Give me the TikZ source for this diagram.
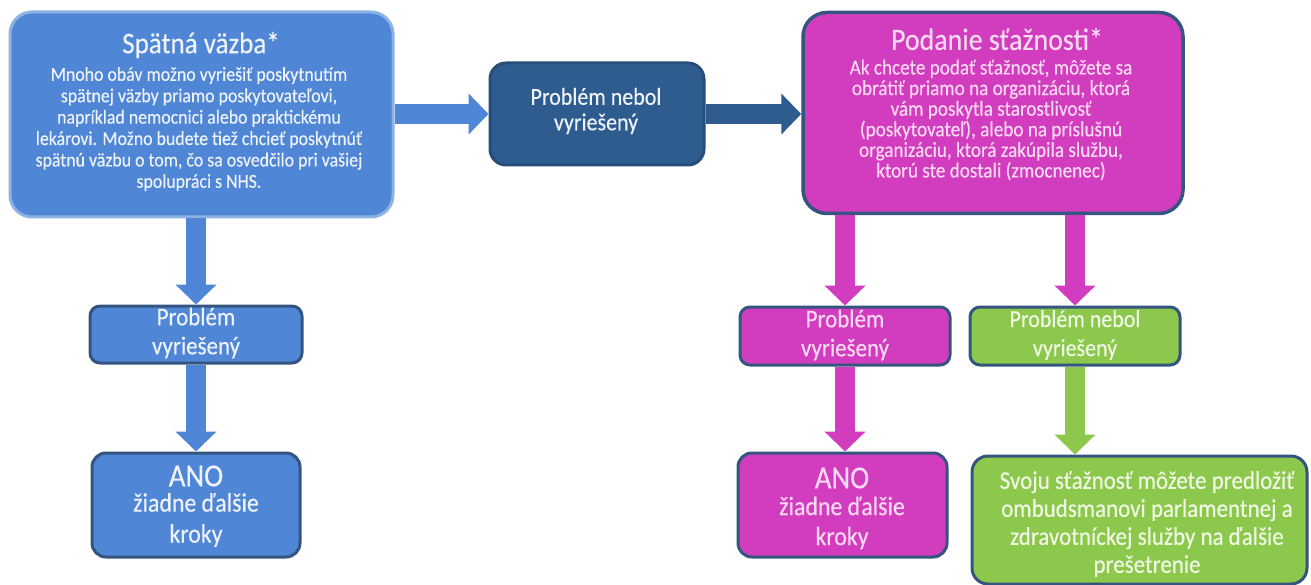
\documentclass[tikz,border=0pt]{standalone}
\usepackage{fontspec}
\setmainfont{Carlito}[FakeStretch=0.9,FakeBold=0.3]
\usetikzlibrary{arrows.meta}
\definecolor{cblue}{HTML}{4F86D6}
\definecolor{cbluebd}{HTML}{8DB3E5}
\definecolor{cnavy}{HTML}{34557F}
\definecolor{cdark}{HTML}{2E5C8E}
\definecolor{cpink}{HTML}{D23CBE}
\definecolor{cgreen}{HTML}{8CC84B}
\definecolor{ctxtblue}{HTML}{EEF3FB}
\definecolor{ctxtpink}{HTML}{FAD9F2}
\definecolor{ctxtgreen}{HTML}{F1F8E6}
\tikzset{
  boxbase/.style={line width=3pt, inner sep=0pt},
  bluebig/.style={boxbase, fill=cblue, draw=cbluebd, rounded corners=22pt},
  darkbox/.style={boxbase, fill=cdark, draw=cdark!85!black, rounded corners=16pt},
  pinkbig/.style={boxbase, fill=cpink, draw=cnavy, line width=3.5pt, rounded corners=24pt},
  bluesmall/.style={boxbase, fill=cblue, draw=cnavy, rounded corners=10pt},
  pinksmall/.style={boxbase, fill=cpink, draw=cnavy, rounded corners=10pt},
  greensmall/.style={boxbase, fill=cgreen, draw=cnavy, rounded corners=10pt},
  txt/.style={inner sep=0pt, align=center},
  btxt/.style={txt, text=ctxtblue},
  ptxt/.style={txt, text=ctxtpink},
  gtxt/.style={txt, text=ctxtgreen},
  blockarrow/.style={line width=20pt, -{Triangle[width=40pt,length=20pt]}},
  barrow/.style={blockarrow, draw=cblue},
  darrow/.style={blockarrow, draw=cdark},
  parrow/.style={blockarrow, draw=cpink},
  garrow/.style={blockarrow, draw=cgreen},
}
\begin{document}
\begin{tikzpicture}[x=1pt,y=-1pt]
\useasboundingbox[fill=white] (0,0) rectangle (1311,585);

% boxes
\node[bluebig, minimum width=383pt, minimum height=205pt] (fb) at (201.5,114.5) {};
\node[darkbox, minimum width=214pt, minimum height=102pt] (mid) at (597,114) {};
\node[pinkbig, minimum width=380pt, minimum height=201pt] (pk) at (993,113) {};
\node[bluesmall, minimum width=212pt, minimum height=57pt] (bpv) at (196,334.5) {};
\node[bluesmall, minimum width=208pt, minimum height=104pt, rounded corners=14pt] (bano) at (196,505) {};
\node[pinksmall, minimum width=210pt, minimum height=58pt] (ppv) at (845,336) {};
\node[pinksmall, minimum width=209pt, minimum height=104pt, rounded corners=14pt] (pano) at (842.5,505) {};
\node[greensmall, minimum width=210pt, minimum height=58pt] (gpv) at (1075,336) {};
\node[greensmall, minimum width=335pt, minimum height=128pt, rounded corners=16pt] (gfin) at (1139.5,520) {};

% texts
\node[btxt, font=\fontsize{30}{32}\selectfont] (fbt) at (201,45) {Spätná väzba*};
\node[btxt, font=\fontsize{19.8}{21.4}\selectfont] (fbb) at (199,129) {Mnoho obáv možno vyriešiť poskytnutím\\spätnej väzby priamo poskytovateľovi,\\napríklad nemocnici alebo praktickému\\lekárovi. Možno budete tiež chcieť poskytnúť\\spätnú väzbu o tom, čo sa osvedčilo pri vašiej\\spolupráci s NHS.};
\node[btxt, font=\fontsize{24.4}{25.5}\selectfont] (midt) at (596,111) {Problém nebol\\vyriešený};
\node[ptxt, font=\fontsize{31}{32}\selectfont] (pkt) at (997,39) {Podanie sťažnosti*};
\node[ptxt, font=\fontsize{21.3}{20.6}\selectfont] (pkb) at (991,120) {Ak chcete podať sťažnosť, môžete sa\\obrátiť priamo na organizáciu, ktorá\\vám poskytla starostlivosť\\(poskytovateľ), alebo na príslušnú\\organizáciu, ktorá zakúpila službu,\\ktorú ste dostali (zmocnenec)};
\node[btxt, font=\fontsize{25.5}{29}\selectfont] (bpvt) at (196,333) {Problém\\vyriešený};
\node[btxt, font=\fontsize{32}{33}\selectfont] (banot) at (196,476) {ANO};
\node[btxt, font=\fontsize{26.5}{31}\selectfont] (banob) at (196,520) {žiadne ďalšie\\kroky};
\node[ptxt, font=\fontsize{25.5}{29}\selectfont] (ppvt) at (845,335) {Problém\\vyriešený};
\node[ptxt, font=\fontsize{32}{33}\selectfont] (panot) at (842,478) {ANO};
\node[ptxt, font=\fontsize{26.5}{30}\selectfont] (panob) at (842,523) {žiadne ďalšie\\kroky};
\node[gtxt, font=\fontsize{24.4}{29}\selectfont] (gpvt) at (1075,335) {Problém nebol\\vyriešený};
\node[gtxt, font=\fontsize{25.5}{28}\selectfont] (gfint) at (1147,524) {Svoju sťažnosť môžete predložiť\\ombudsmanovi parlamentnej a\\zdravotníckej služby na ďalšie\\prešetrenie};

% arrows
\draw[barrow] (fb.east |- mid.west) -- (mid.west);
\draw[darrow] (mid.east) -- (pk.west |- mid.east);
\draw[barrow] (fb.south -| bpv.north) -- (bpv.north);
\draw[barrow] (bpv.south) -- (bano.north -| bpv.south);
\draw[parrow] (pk.south -| ppv.north) -- (ppv.north);
\draw[parrow] (pk.south -| gpv.north) -- (gpv.north);
\draw[parrow] (ppv.south) -- (pano.north -| ppv.south);
\draw[garrow] (gpv.south) -- (gfin.north -| gpv.south);
\end{tikzpicture}
\end{document}
